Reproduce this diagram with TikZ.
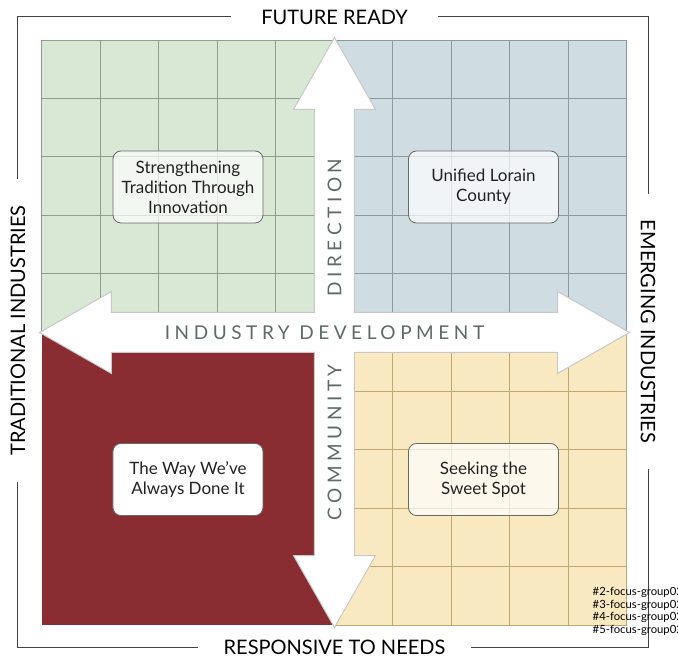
\documentclass[tikz,border=0pt]{standalone}
\usepackage{fontspec}
\setmainfont{Lato}
\newfontfamily\spacedfont[LetterSpace=24]{Lato}

\definecolor{greenfill}{HTML}{D9E7D5}
\definecolor{greenline}{HTML}{8E9E89}
\definecolor{bluefill}{HTML}{CFDCE2}
\definecolor{blueline}{HTML}{8C9AA0}
\definecolor{redfill}{HTML}{892D33}
\definecolor{yellowfill}{HTML}{F8E9C1}
\definecolor{yellowline}{HTML}{C2A772}
\definecolor{arrowline}{HTML}{C8C8C8}
\definecolor{axistext}{HTML}{5E6A66}
\definecolor{frameline}{HTML}{444444}
\definecolor{boxtext}{HTML}{222222}

\tikzset{
	quadbox/.style={draw=frameline!80, line width=0.8, rounded corners=8, minimum width=150, minimum height=72, align=center, text=boxtext, font=\fontsize{17}{20}\selectfont},
	axislabel/.style={text=axistext, font=\spacedfont\fontsize{19}{22}\selectfont},
	framelabel/.style={fill=white, inner xsep=26, inner ysep=0, font=\fontsize{20}{22}\selectfont, text=black}
}

\begin{document}
\begin{tikzpicture}[x=1pt,y=1pt]
	\useasboundingbox (-334.5,-323.5) rectangle (343.5,332.5);

	% quadrants
	\fill[greenfill] (-292.5,0) rectangle (0,292.5);
	\fill[bluefill] (0,0) rectangle (292.5,292.5);
	\fill[redfill] (-292.5,-292.5) rectangle (0,0);
	\fill[yellowfill] (0,-292.5) rectangle (292.5,0);
	\draw[greenline, step=58.5, line width=1] (-292.5,0) grid (0,292.5);
	\draw[blueline, step=58.5, line width=1] (0,0) grid (292.5,292.5);
	\draw[yellowline, step=58.5, line width=1] (0,-292.5) grid (292.5,0);

	% cross arrow
	\draw[arrowline, fill=white, line width=1, line join=miter]
		(20,20) -- (20,223) -- (41,223) -- (0,295) -- (-41,223) -- (-20,223)
		-- (-20,20) -- (-223,20) -- (-223,41) -- (-295,0) -- (-223,-41) -- (-223,-20)
		-- (-20,-20) -- (-20,-223) -- (-41,-223) -- (0,-295) -- (41,-223) -- (20,-223)
		-- (20,-20) -- (223,-20) -- (223,-41) -- (295,0) -- (223,41) -- (223,20) -- cycle;

	\begin{scope}[every node/.style={axislabel}]
		\node (dir) at (0,105) [rotate=90] {DIRECTION};
		\node (com) at (0,-110) [rotate=90] {COMMUNITY};
		\node (dev) at (-10,0) {INDUSTRY DEVELOPMENT};
	\end{scope}

	% quadrant boxes
	\begin{scope}[every node/.style={quadbox}]
		\node (TL) [fill=white, fill opacity=0.7, text opacity=1] at (-146.5,145.5) {Strengthening\\Tradition Through\\Innovation};
		\node (TR) [fill=white, fill opacity=0.7, text opacity=1] at (149,145.5) {Unified Lorain\\County};
		\node (BL) [fill=white] at (-146.5,-147) {The Way We’ve\\Always Done It};
		\node (BR) [fill=white, fill opacity=0.7, text opacity=1] at (149,-147) {Seeking the\\Sweet Spot};
	\end{scope}

	% frame
	\draw[frameline, line width=1] (-316.5,-314.5) rectangle (313.5,315.5);
	\begin{scope}[every node/.style={framelabel}]
		\node (N) at (0,315.5) [inner xsep=30] {FUTURE READY};
		\node (S) at (0,-315) {RESPONSIVE TO NEEDS};
		\node (W) at (-316.5,2) [rotate=90] {TRADITIONAL INDUSTRIES};
		\node (E) at (313.5,1) [rotate=-90] {EMERGING INDUSTRIES};
	\end{scope}

	\node (files) [anchor=west, align=left, inner sep=0, text=black, font=\fontsize{11.3}{12.5}\selectfont] at (258,-278.8)
		{\#2-focus-group02\\\#3-focus-group02\\\#4-focus-group02\\\#5-focus-group02};
\end{tikzpicture}
\end{document}
